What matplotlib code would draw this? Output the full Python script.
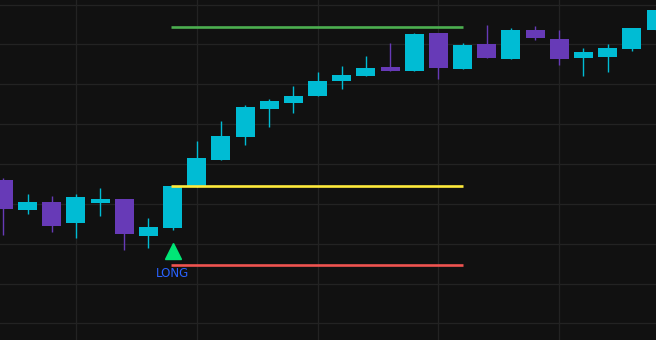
import matplotlib
matplotlib.use("Agg")
import matplotlib.pyplot as plt
import matplotlib.transforms as mtransforms
import numpy as np

# ---- data ----
opens  = [127.20, 125.69, 126.09, 125.04, 126.04, 126.25, 124.39, 124.79,
          126.85, 128.20, 129.35, 130.76, 131.06, 131.41, 132.16, 132.41,
          132.87, 132.67, 134.57, 132.77, 134.02, 133.27, 134.72, 134.27,
          133.32, 133.37, 133.77, 134.72]
highs  = [127.30, 126.50, 126.40, 126.50, 126.80, 126.25, 125.29, 126.90,
          129.15, 130.16, 130.96, 131.26, 131.91, 132.61, 132.92, 133.42,
          134.07, 134.57, 134.57, 134.07, 134.97, 134.82, 134.92, 134.72,
          133.82, 134.02, 134.82, 135.72]
lows   = [124.44, 125.49, 124.59, 124.29, 125.39, 123.69, 123.79, 124.69,
          126.85, 128.20, 128.95, 129.86, 130.56, 131.41, 131.76, 132.41,
          132.67, 132.67, 132.26, 132.77, 133.32, 133.27, 134.22, 132.97,
          132.41, 132.61, 133.67, 134.72]
closes = [125.74, 126.09, 124.89, 126.35, 126.25, 124.49, 124.84, 126.90,
          128.30, 129.40, 130.86, 131.16, 131.41, 132.16, 132.46, 132.82,
          132.67, 134.52, 132.82, 133.97, 133.32, 134.72, 134.32, 133.27,
          133.62, 133.82, 134.82, 135.72]

entry_idx = 7
exit_idx = 19
take_profit = 134.88
entry_price = 126.90
stop_loss = 122.91
signal_label = "LONG"

price_grid = [120, 122, 124, 126, 128, 130, 132, 134, 136]
time_grid = [3, 8, 13, 18, 23]

# ---- style ----
BG = "#111111"
GRID = "#232323"
UP = "#00bcd4"
DOWN = "#673ab7"

fig = plt.figure(figsize=(6.56, 3.40), dpi=100)
fig.patch.set_facecolor(BG)
ax = fig.add_axes([0, 0, 1, 1])
ax.set_facecolor(BG)

x = np.arange(len(opens))
o = np.array(opens); h = np.array(highs); l = np.array(lows); c = np.array(closes)
colors = [UP if cc >= oo else DOWN for oo, cc in zip(o, c)]

ax.vlines(x, l, h, colors=colors, linewidth=1.0, zorder=3)
ax.bar(x, c - o, bottom=o, width=0.786, color=colors, linewidth=0, zorder=4)

# trade levels
for level, col in [(take_profit, "#4caf50"), (entry_price, "#ffeb3b"), (stop_loss, "#ef5350")]:
    ax.hlines(level, entry_idx - 0.06, exit_idx + 0.02, colors=col, linewidth=1.9, zorder=5)

# signal marker
ax.plot([entry_idx], [lows[entry_idx]], marker="^", markersize=11.5, color="#00e676",
        linestyle="none", zorder=6,
        transform=ax.transData + mtransforms.ScaledTranslation(0, -20.7 / 100, fig.dpi_scale_trans))
ax.annotate(signal_label, xy=(entry_idx, lows[entry_idx]), xycoords="data",
            xytext=(0, -44 * 0.72), textcoords="offset points",
            ha="center", va="center", color="#2962ff", fontsize=8.5,
            family=["DejaVu Sans Condensed", "DejaVu Sans"], zorder=6)

ax.set_xlim(-0.138, 27.0)
ax.set_ylim(119.172, 136.226)
ax.set_yticks(price_grid)
ax.set_xticks(time_grid)
ax.grid(True, color=GRID, linewidth=0.9, zorder=0)
ax.set_axisbelow(True)
ax.tick_params(left=False, bottom=False, labelleft=False, labelbottom=False)
for s in ax.spines.values():
    s.set_visible(False)

fig.savefig("out.png", dpi=100, facecolor=BG)
